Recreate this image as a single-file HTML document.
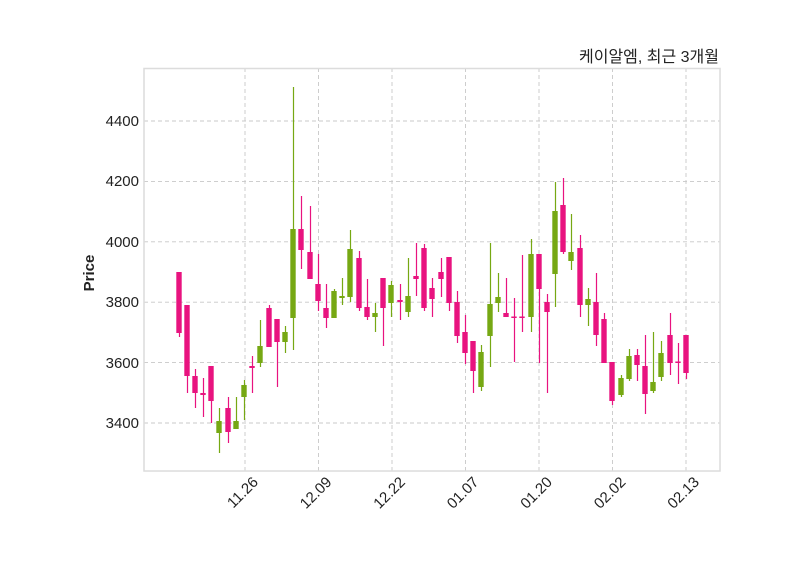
<!DOCTYPE html>
<html><head><meta charset="utf-8"><style>body{margin:0;background:#fff}svg{display:block}</style></head><body>
<svg width="800" height="575" xmlns="http://www.w3.org/2000/svg" font-family="Liberation Sans, sans-serif">
<rect width="800" height="575" fill="#fff"/>
<g stroke="#c8c8c8" stroke-width="0.9" stroke-dasharray="4,3">
<line x1="144" x2="720" y1="121" y2="121"/><line x1="144" x2="720" y1="181.4" y2="181.4"/><line x1="144" x2="720" y1="241.8" y2="241.8"/><line x1="144" x2="720" y1="302.2" y2="302.2"/><line x1="144" x2="720" y1="362.6" y2="362.6"/><line x1="144" x2="720" y1="423" y2="423"/>
<line y1="68" y2="471" x1="245" x2="245"/><line y1="68" y2="471" x1="318.5" x2="318.5"/><line y1="68" y2="471" x1="392" x2="392"/><line y1="68" y2="471" x1="465.5" x2="465.5"/><line y1="68" y2="471" x1="539" x2="539"/><line y1="68" y2="471" x1="612.5" x2="612.5"/><line y1="68" y2="471" x1="686" x2="686"/>
</g>
<rect x="144" y="68.5" width="576" height="402.5" fill="none" stroke="#dcdcdc" stroke-width="1.5"/>
<g font-size="15" fill="#222" text-anchor="end">
<text x="139" y="126">4400</text><text x="139" y="186">4200</text><text x="139" y="247">4000</text><text x="139" y="307">3800</text><text x="139" y="368">3600</text><text x="139" y="428">3400</text>
</g>
<g font-size="15" fill="#222" text-anchor="end">
<text transform="translate(259,483) rotate(-45)">11.26</text>
<text transform="translate(332.5,483) rotate(-45)">12.09</text>
<text transform="translate(406,483) rotate(-45)">12.22</text>
<text transform="translate(479.5,483) rotate(-45)">01.07</text>
<text transform="translate(553,483) rotate(-45)">01.20</text>
<text transform="translate(626.5,483) rotate(-45)">02.02</text>
<text transform="translate(700,483) rotate(-45)">02.13</text>
</g>
<text transform="translate(94,273) rotate(-90)" font-size="15" font-weight="bold" fill="#222" text-anchor="middle">Price</text>
<text x="719" y="62" font-size="16" fill="#222" text-anchor="end" font-family="Liberation Sans, Noto Sans CJK KR, sans-serif">케이알엠, 최근 3개월</text>
<g fill="none" stroke="#e8137f" stroke-width="1.2" transform="translate(0.5,0)">
<path d="M179 272V337M187 305V393M195 369V408M203 378V417M211 366V423M228 397V443M252 356V393M269 305V347M277 319V387M301 196V269M310 206V279M318 254V311M326 284V328M359 251V311M367 279V320M383 278V346M400 284V320M416 243V296M424 244V311M432 278V317M441 258V297M449 257V311M457 291V343M465 315V364M473 341V393M506 278V317M514 298V362M522 255V332M539 254V363M547 294V393M563 178V254M580 235V317M596 273V346M604 313V363M612 362V405M637 349V381M645 335V414M670 313V375M678 343V384M686 335V379"/>
</g>
<g fill="#e8137f">
<rect x="176.3" y="272" width="5.4" height="61"/>
<rect x="184.3" y="305" width="5.4" height="71"/>
<rect x="192.3" y="376" width="5.4" height="17"/>
<rect x="200.3" y="393" width="5.4" height="2"/>
<rect x="208.3" y="366" width="5.4" height="35"/>
<rect x="225.3" y="408" width="5.4" height="24"/>
<rect x="249.3" y="366" width="5.4" height="2"/>
<rect x="266.3" y="308" width="5.4" height="39"/>
<rect x="274.3" y="319" width="5.4" height="23"/>
<rect x="298.3" y="229" width="5.4" height="21"/>
<rect x="307.3" y="252" width="5.4" height="27"/>
<rect x="315.3" y="284" width="5.4" height="17"/>
<rect x="323.3" y="308" width="5.4" height="10"/>
<rect x="356.3" y="258" width="5.4" height="50"/>
<rect x="364.3" y="307" width="5.4" height="10"/>
<rect x="380.3" y="278" width="5.4" height="30"/>
<rect x="397.3" y="300" width="5.4" height="2"/>
<rect x="413.3" y="276" width="5.4" height="3"/>
<rect x="421.3" y="248" width="5.4" height="60"/>
<rect x="429.3" y="288" width="5.4" height="11"/>
<rect x="438.3" y="272" width="5.4" height="7"/>
<rect x="446.3" y="257" width="5.4" height="46"/>
<rect x="454.3" y="302" width="5.4" height="34"/>
<rect x="462.3" y="332" width="5.4" height="21"/>
<rect x="470.3" y="341" width="5.4" height="30"/>
<rect x="503.3" y="313" width="5.4" height="4"/>
<rect x="511.3" y="316.5" width="5.4" height="1.5"/>
<rect x="519.3" y="316.5" width="5.4" height="1.5"/>
<rect x="536.3" y="254" width="5.4" height="35"/>
<rect x="544.3" y="302" width="5.4" height="10"/>
<rect x="560.3" y="205" width="5.4" height="47"/>
<rect x="577.3" y="248" width="5.4" height="57"/>
<rect x="593.3" y="302" width="5.4" height="33"/>
<rect x="601.3" y="319" width="5.4" height="44"/>
<rect x="609.3" y="362" width="5.4" height="39"/>
<rect x="634.3" y="355" width="5.4" height="10"/>
<rect x="642.3" y="366" width="5.4" height="28"/>
<rect x="667.3" y="335" width="5.4" height="28"/>
<rect x="675.3" y="361.5" width="5.4" height="1.5"/>
<rect x="683.3" y="335" width="5.4" height="38"/>
</g>
<g fill="none" stroke="#76a813" stroke-width="1.2" transform="translate(0.5,0)">
<path d="M219 408V453M236 397V429M244 380V420M260 320V367M285 326V353M293 87V350M334 289V318M342 278V305M350 230V302M375 303V332M391 281V317M408 258V317M481 345V391M490 243V367M498 273V312M531 239V332M555 182V307M571 214V270M588 288V326M621 375V397M629 349V381M653 332V393M661 341V381"/>
</g>
<g fill="#76a813">
<rect x="216.3" y="421" width="5.4" height="12"/>
<rect x="233.3" y="421" width="5.4" height="8"/>
<rect x="241.3" y="385" width="5.4" height="12"/>
<rect x="257.3" y="346" width="5.4" height="17"/>
<rect x="282.3" y="332" width="5.4" height="10"/>
<rect x="290.3" y="229" width="5.4" height="89"/>
<rect x="331.3" y="291" width="5.4" height="27"/>
<rect x="339.3" y="296" width="5.4" height="2"/>
<rect x="347.3" y="249" width="5.4" height="48"/>
<rect x="372.3" y="313" width="5.4" height="4"/>
<rect x="388.3" y="285" width="5.4" height="18"/>
<rect x="405.3" y="296" width="5.4" height="16"/>
<rect x="478.3" y="352" width="5.4" height="35"/>
<rect x="487.3" y="304" width="5.4" height="32"/>
<rect x="495.3" y="297" width="5.4" height="6"/>
<rect x="528.3" y="254" width="5.4" height="63"/>
<rect x="552.3" y="211" width="5.4" height="63"/>
<rect x="568.3" y="252" width="5.4" height="9"/>
<rect x="585.3" y="299" width="5.4" height="6"/>
<rect x="618.3" y="378" width="5.4" height="17"/>
<rect x="626.3" y="356" width="5.4" height="23"/>
<rect x="650.3" y="382" width="5.4" height="9"/>
<rect x="658.3" y="353" width="5.4" height="24"/>
</g>
</svg>
</body></html>
